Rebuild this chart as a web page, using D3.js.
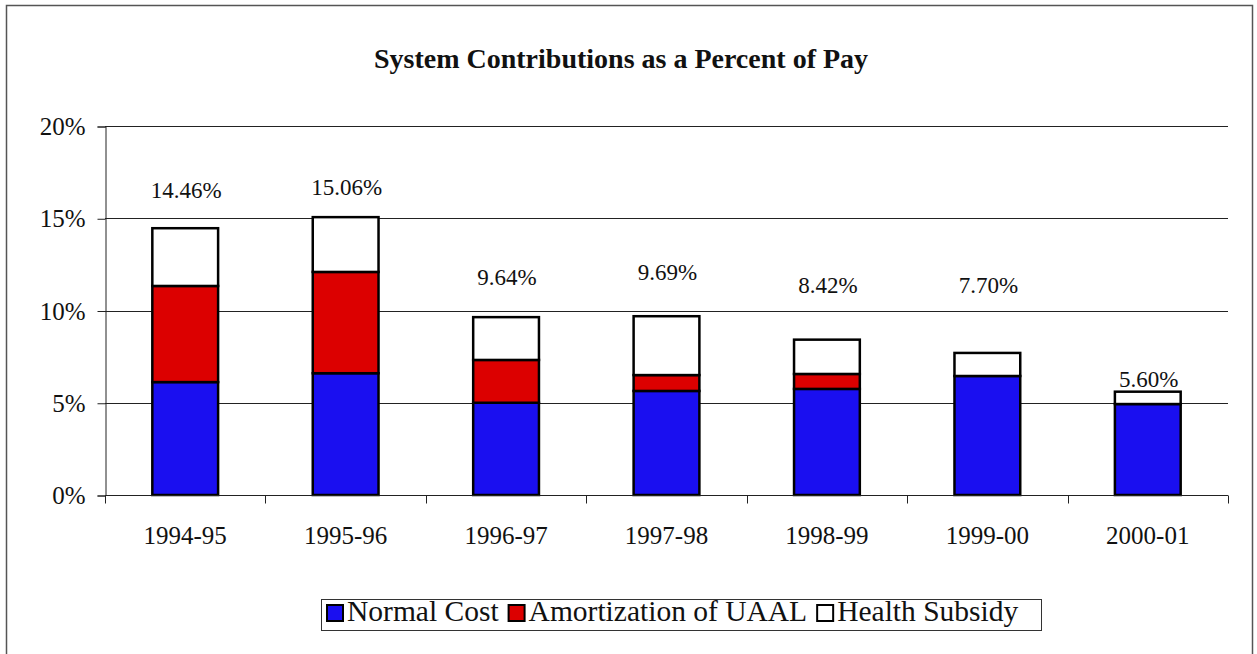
<!DOCTYPE html>
<html>
<head>
<meta charset="utf-8">
<script src="https://cdn.jsdelivr.net/npm/d3@7"></script>
<style>
  body { margin: 0; background: #fff; }
  svg { display: block; font-family: 'Liberation Serif', 'Times New Roman', serif; }
</style>
</head>
<body>
<div id="container"></div>
<script>
// chart values
const categories = ['1994-95', '1995-96', '1996-97', '1997-98', '1998-99', '1999-00', '2000-01'];
const normalCost = [6.12, 6.60, 5.00, 5.64, 5.75, 6.45, 4.93];
const amortization = [5.21, 5.49, 2.32, 0.86, 0.81, 0, 0];
const healthSubsidy = [3.13, 2.97, 2.32, 3.19, 1.86, 1.25, 0.67];
const totals = [14.46, 15.06, 9.64, 9.69, 8.42, 7.70, 5.60];
const yTicks = [0, 5, 10, 15, 20];
const seriesNames = ['Normal Cost', 'Amortization of UAAL', 'Health Subsidy'];

window.onload = function () {
	'use strict';
	let options = {
		width: 1257,
		height: 654,
		left: 105,
		right: 1228,
		top: 126,
		bottom: 495
	};
	let colors = ['#1a0ff0', '#dc0000', '#ffffff'];
	// where the total labels sit (in % units), excel put them unevenly
	let labelLevel = [16.1, 16.26, 11.38, 11.65, 10.95, 10.95, 5.85];

	let svg = d3.select('#container')
		.append('svg')
		.attr('width', options.width)
		.attr('height', options.height);

	// outer frame
	svg.append('rect')
		.attr('x', 6.5).attr('y', 5.5)
		.attr('width', 1246).attr('height', 660)
		.attr('fill', 'none')
		.attr('stroke', '#555')
		.attr('stroke-width', 1.5);

	svg.append('text')
		.attr('x', 621).attr('y', 68)
		.attr('text-anchor', 'middle')
		.attr('font-weight', 'bold')
		.attr('font-size', 28)
		.attr('fill', '#111')
		.text('System Contributions as a Percent of Pay');

	let x = d3.scaleBand().domain(categories).range([options.left, options.right]);
	let y = d3.scaleLinear().domain([0, 20]).range([options.bottom, options.top]);

	// gridlines
	svg.append('g')
		.selectAll('line')
		.data(yTicks.slice(1))
		.enter()
		.append('line')
		.attr('x1', options.left).attr('x2', options.right)
		.attr('y1', d => Math.round(y(d)) + 0.5).attr('y2', d => Math.round(y(d)) + 0.5)
		.attr('stroke', '#222');

	let yAxis = svg.append('g')
		.attr('transform', 'translate(' + (options.left + 0.5) + ',0.5)')
		.call(d3.axisLeft(y).tickValues(yTicks).tickFormat(d => d + '%').tickSize(8).tickPadding(12));
	yAxis.select('.domain').attr('stroke', '#222');
	yAxis.selectAll('.tick line').attr('stroke', '#222');
	yAxis.selectAll('text').attr('font-size', 25).attr('fill', '#111').attr('font-family', 'Liberation Serif');

	let stackData = categories.map((c, i) => ({
		cat: c,
		normal: normalCost[i],
		amort: amortization[i],
		health: healthSubsidy[i]
	}));
	let stack = d3.stack().keys(['normal', 'amort', 'health']);
	let layers = stack(stackData);

	let barW = x.bandwidth() * 0.41;
	svg.append('g')
		.selectAll('g')
		.data(layers)
		.enter()
		.append('g')
		.attr('fill', (d, i) => colors[i])
		.selectAll('rect')
		.data(d => d.filter(p => p[1] - p[0] > 0))
		.enter()
		.append('rect')
		.attr('x', d => x(d.data.cat) + (x.bandwidth() - barW) / 2)
		.attr('width', barW)
		.attr('y', d => y(d[1]))
		.attr('height', d => y(d[0]) - y(d[1]))
		.attr('stroke', '#000')
		.attr('stroke-width', 2.5);

	// x axis over the bars
	let xAxis = svg.append('g')
		.attr('transform', 'translate(0,' + (options.bottom + 0.5) + ')');
	xAxis.append('line')
		.attr('x1', options.left).attr('x2', options.right)
		.attr('stroke', '#222');
	xAxis.selectAll('.tk')
		.data(categories.concat(['end']))
		.enter()
		.append('line')
		.attr('x1', (d, i) => Math.round(options.left + i * x.step()) + 0.5)
		.attr('x2', (d, i) => Math.round(options.left + i * x.step()) + 0.5)
		.attr('y1', 0).attr('y2', 8)
		.attr('stroke', '#222');
	xAxis.selectAll('text')
		.data(categories)
		.enter()
		.append('text')
		.attr('x', d => x(d) + x.bandwidth() / 2)
		.attr('y', 48)
		.attr('text-anchor', 'middle')
		.attr('font-size', 25)
		.attr('fill', '#111')
		.text(d => d);

	// total labels
	svg.append('g')
		.selectAll('text')
		.data(totals)
		.enter()
		.append('text')
		.attr('x', (d, i) => x(categories[i]) + x.bandwidth() / 2 + 1)
		.attr('y', (d, i) => y(labelLevel[i]))
		.attr('text-anchor', 'middle')
		.attr('font-size', 23)
		.attr('fill', '#111')
		.text(d => d.toFixed(2) + '%');

	// legend
	let legend = svg.append('g');
	legend.append('rect')
		.attr('x', 321.5).attr('y', 599.5)
		.attr('width', 720).attr('height', 31)
		.attr('fill', '#fff')
		.attr('stroke', '#333');
	let lx = 327;
	seriesNames.forEach((name, i) => {
		legend.append('rect')
			.attr('x', lx).attr('y', 605)
			.attr('width', 16).attr('height', 16)
			.attr('fill', colors[i])
			.attr('stroke', '#000')
			.attr('stroke-width', 2);
		let t = legend.append('text')
			.attr('x', lx + 20).attr('y', 621)
			.attr('font-size', 29.5)
			.attr('fill', '#111')
			.text(name);
		lx += 20 + t.node().getComputedTextLength() + 10;
	});
};
</script>
</body>
</html>
